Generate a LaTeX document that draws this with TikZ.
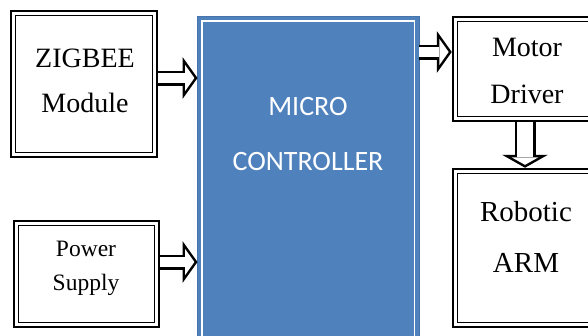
\documentclass[tikz,border=0pt]{standalone}
\usepackage{fontspec}
\setmainfont{Liberation Serif}
\newfontfamily\calibrifont{Carlito}
\usetikzlibrary{arrows.meta}
\definecolor{mcblue}{RGB}{79,129,189}

\begin{document}
\begin{tikzpicture}[
    x=1pt, y=-1pt,
    % Define styles
    box/.style={
        rectangle,
        draw=black,
        fill=white,
        line width=2.5pt
    },
    inner_frame/.style={
        black,
        line width=1.5pt
    },
    mc_block/.style={
        rectangle,
        fill=mcblue,
        draw=mcblue!90!black,
        line width=1pt,
        outer sep=0pt
    },
    mc_frame/.style={
        white,
        line width=1.3pt
    },
    box_text/.style={
        font={\fontsize{28}{45}\selectfont},
        align=center,
        text=black
    },
    mc_text/.style={
        font={\calibrifont\fontsize{28}{55}\selectfont},
        align=center,
        text=white
    },
    arrow_outline/.style={
        black,
        line width=15pt,
        -{Triangle[length=15pt, width=42pt, line width=0pt]}
    },
    arrow_inside/.style={
        white,
        line width=10pt,
        shorten >=3.1pt,
        -{Triangle[length=9.4pt, width=26.4pt, line width=0pt]}
    },
    down_outline/.style={
        black,
        line width=21pt,
        -{Triangle[length=13pt, width=46pt, line width=0pt]}
    },
    down_inside/.style={
        white,
        line width=16pt,
        shorten >=2.9pt,
        -{Triangle[length=7.6pt, width=27pt, line width=0pt]}
    }
]
    \useasboundingbox (0,0) rectangle (588,335);

    % --- Left Column (inputs) ---
    \node[box, minimum width=146pt, minimum height=146pt] (zigbee) at (84,84) {};
    \node[box, minimum width=145pt, minimum height=106pt] (power) at (86.5,274) {};

    \node[box_text] (zigbee_label) at (85,81) {ZIGBEE\\Module};
    \node[box_text, font={\fontsize{23.5}{34}\selectfont}] (power_label) at (86,268) {Power\\Supply};

    % --- Centre (controller) ---
    \node[mc_block, minimum width=221.5pt, minimum height=343.5pt] (mc) at (308.25,188.25) {};
    \draw[mc_frame] ([shift={(4.5,4.5)}]mc.north west) rectangle ([shift={(-4.5,-4.5)}]mc.south east);
    \node[mc_text] (mc_label) at (308,134.5) {MICRO\\CONTROLLER};

    % --- Right Column (outputs) ---
    \node[box, minimum width=148pt, minimum height=104pt] (motor) at (527,69) {};
    \node[box, minimum width=148pt, minimum height=158pt] (arm) at (527,248) {};

    \node[box_text, font={\fontsize{28}{47}\selectfont}] (motor_label) at (527,71) {Motor\\Driver};
    \node[box_text, font={\fontsize{29}{51}\selectfont}] (arm_label) at (526,237) {Robotic\\ARM};

    % Double frames
    \foreach \b in {zigbee, power, motor, arm} {
        \draw[inner_frame] ([shift={(5.75,5.75)}]\b.north west) rectangle ([shift={(-5.75,-5.75)}]\b.south east);
    }

    % --- Block arrows ---
    \draw[arrow_outline] (zigbee.east |- 0,78) -- (mc.west |- 0,78);
    \draw[arrow_inside] (zigbee.east |- 0,78) -- (mc.west |- 0,78);

    \draw[arrow_outline] (power.east |- 0,262) -- (mc.west |- 0,262);
    \draw[arrow_inside] (power.east |- 0,262) -- (mc.west |- 0,262);

    \draw[arrow_outline] (mc.east |- 0,52) -- (motor.west |- 0,52);
    \draw[arrow_inside] (mc.east |- 0,52) -- (motor.west |- 0,52);

    \draw[down_outline] (motor.south -| 525,0) -- (arm.north -| 525,0);
    \draw[down_inside] (motor.south -| 525,0) -- (arm.north -| 525,0);

\end{tikzpicture}
\end{document}
